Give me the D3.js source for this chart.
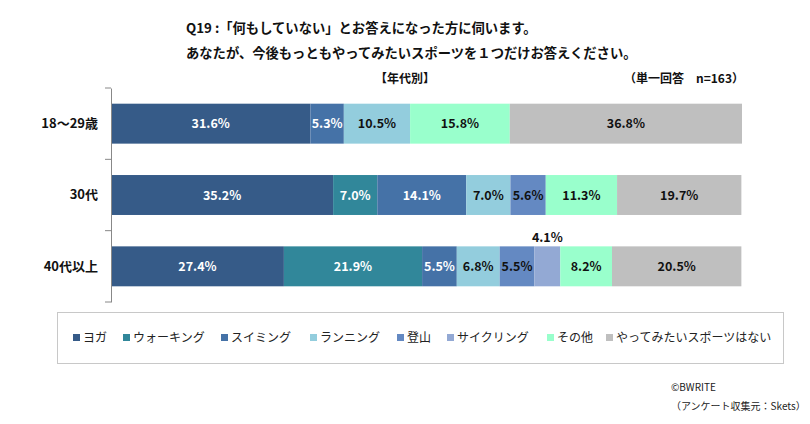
<!DOCTYPE html>
<html><head><meta charset="utf-8">
<script src="https://cdn.jsdelivr.net/npm/d3@7"></script>
<style>
body{margin:0;background:#fff;}
svg{display:block;font-family:"Noto Sans CJK JP","Noto Sans",sans-serif;}
</style></head><body>
<svg id="c" width="810" height="424"></svg>
<script>
const categories = ["18〜29歳", "30代", "40代以上"];
const seriesNames = ["ヨガ","ウォーキング","スイミング","ランニング","登山","サイクリング","その他","やってみたいスポーツはない"];
const yoga     = [31.6, 35.2, 27.4];
const walking  = [0,    7.0,  21.9];
const swimming = [5.3,  14.1, 5.5];
const running  = [10.5, 7.0,  6.8];
const climbing = [0,    5.6,  5.5];
const cycling  = [0,    0,    4.1];
const other    = [15.8, 11.3, 8.2];
const none     = [36.8, 19.7, 20.5];
const colors = ["#365B88","#31879A","#4572A7","#93CDDD","#6489C2","#93A9D4","#99FFCC","#BFBFBF"];
const labelColors = ["#fff","#fff","#fff","#111","#111","#111","#111","#111"];
const series = [yoga, walking, swimming, running, climbing, cycling, other, none];

const svg = d3.select("#c");
const x = d3.scaleLinear().domain([0,100]).range([111,742]);
const y = d3.scaleBand().domain(categories).range([88,302]).paddingInner(0.44).paddingOuter(0.22);

// Title
const t = svg.append("g").attr("font-weight","bold").attr("fill","#111").attr("font-size","13.3px");
t.append("text").attr("x",186).attr("y",33).text("Q19 :「何もしていない」とお答えになった方に伺います。");
t.append("text").attr("x",186).attr("y",58).text("あなたが、今後もっともやってみたいスポーツを１つだけお答えください。");
t.append("text").attr("x",405).attr("y",83).attr("text-anchor","middle").attr("font-size","12px").text("【年代別】");
t.append("text").attr("x",624).attr("y",83).attr("font-size","12px").text("（単一回答　n=163）");

// Bars
const stacks = categories.map((c,i)=>{
  let acc=0;
  return series.map((s,k)=>{const v=s[i]; const r={cat:c,k,v,x0:acc,x1:acc+v}; acc+=v; return r;});
});
const g = svg.append("g");
stacks.forEach(row=>{
  row.filter(d=>d.v>0).forEach(d=>{
    g.append("rect").attr("x",x(d.x0)).attr("y",y(d.cat)).attr("width",x(d.x1)-x(d.x0)).attr("height",y.bandwidth()).attr("fill",colors[d.k]);
  });
});
stacks.forEach(row=>{
  row.filter(d=>d.v>0).forEach(d=>{
    const small = d.k===5;
    g.append("text")
      .attr("x",(x(d.x0)+x(d.x1))/2)
      .attr("y", small ? y(d.cat)-9 : y(d.cat)+y.bandwidth()/2)
      .attr("dy","0.36em").attr("text-anchor","middle")
      .attr("font-size","12.5px").attr("font-weight","bold")
      .attr("fill", small ? "#111" : labelColors[d.k])
      .text(d.v.toFixed(1)+"%");
  });
});

// Axis
const ax = svg.append("g").attr("transform","translate(111,0)")
  .call(d3.axisLeft(y).tickSize(0).tickPadding(13));
ax.select(".domain").attr("stroke","#888");
ax.selectAll("text").attr("font-size","13px").attr("font-weight","bold").attr("fill","#111").attr("font-family","Noto Sans CJK JP");
const bounds = [88].concat(categories.map((c,i)=>88+ (i+1)*(214/3)));
svg.append("g").selectAll("line").data(bounds).join("line")
  .attr("x1",105).attr("x2",111).attr("y1",d=>d).attr("y2",d=>d).attr("stroke","#888");

// Legend
svg.append("rect").attr("x",57.5).attr("y",312.5).attr("width",726).attr("height",51).attr("fill","none").attr("stroke","#c8c8c8");
const legX = [73,123,221,310,397,447,547,606];
const lg = svg.append("g");
seriesNames.forEach((n,i)=>{
  lg.append("rect").attr("x",legX[i]).attr("y",334).attr("width",7).attr("height",7).attr("fill",colors[i]);
  lg.append("text").attr("x",legX[i]+10).attr("y",338).attr("dy","0.36em").attr("font-size","12px").attr("fill","#222").text(n);
});

// Footer
const f = svg.append("g").attr("font-size","10px").attr("fill","#222");
f.append("text").attr("x",671).attr("y",391).text("©BWRITE");
f.append("text").attr("x",671).attr("y",410).text("（アンケート収集元：Skets）");
</script></body></html>
